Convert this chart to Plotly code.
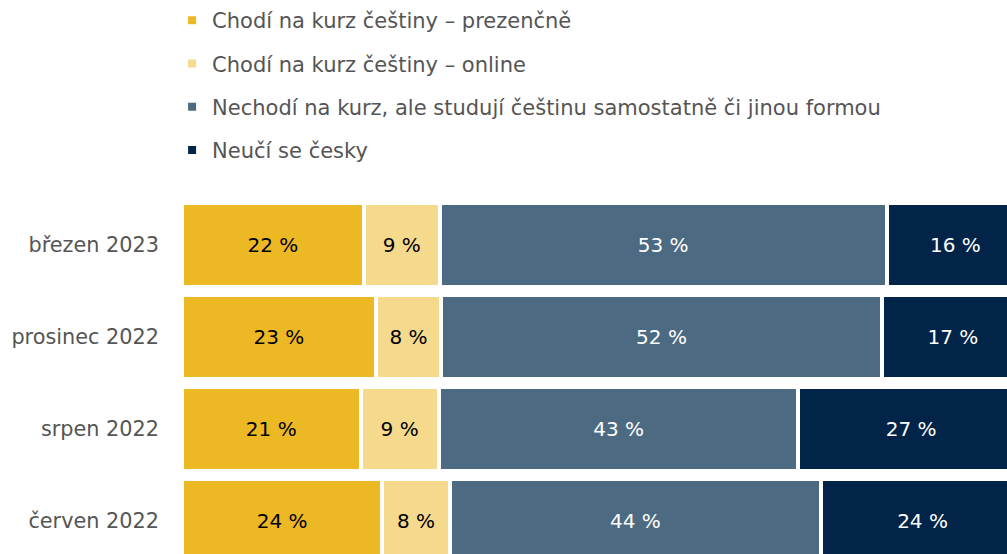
import plotly.graph_objects as go

categories = ["březen 2023", "prosinec 2022", "srpen 2022", "červen 2022"]

series_names = [
    "Chodí na kurz češtiny – prezenčně",
    "Chodí na kurz češtiny – online",
    "Nechodí na kurz, ale studují češtinu samostatně či jinou formou",
    "Neučí se česky",
]

prezencne = [21.6, 23.0, 21.2, 23.8]
online = [9.0, 7.8, 9.3, 8.0]
samostatne = [53.1, 52.3, 42.7, 44.1]
neuci = [16.3, 16.9, 26.8, 24.1]

colors = ["#ECB824", "#F5D98D", "#4C6B82", "#022448"]
text_colors = ["#000000", "#000000", "#FFFFFF", "#FFFFFF"]

FONT = "DejaVu Sans"

fig = go.Figure()
for i, (name, vals) in enumerate(zip(series_names, [prezencne, online, samostatne, neuci])):
    fig.add_trace(go.Bar(
        y=categories,
        x=vals,
        name=name,
        orientation="h",
        legendgroup=f"g{i}",
        marker=dict(color=colors[i], line=dict(color="white", width=4)),
        text=[f"{round(v)} %" for v in vals],
        textposition="inside",
        insidetextanchor="middle",
        textangle=0,
        constraintext="none",
        textfont=dict(family=FONT, size=20, color=text_colors[i]),
        hoverinfo="skip",
    ))

fig.update_layout(
    width=1007,
    height=554,
    barmode="stack",
    bargap=0.087,
    paper_bgcolor="white",
    plot_bgcolor="white",
    margin=dict(l=182, r=0, t=199, b=0, autoexpand=False),
    font=dict(family=FONT, size=20, color="#555555"),
    showlegend=True,
    legend=dict(
        orientation="v",
        traceorder="grouped",
        tracegroupgap=13,
        x=-0.012,
        xanchor="left",
        yref="container",
        y=1.0,
        yanchor="top",
        font=dict(family=FONT, size=21, color="#555555"),
        bgcolor="rgba(0,0,0,0)",
    ),
    xaxis=dict(
        range=[0, 97.98],
        showgrid=False,
        zeroline=False,
        showticklabels=False,
        showline=False,
        fixedrange=True,
    ),
    yaxis=dict(
        type="category",
        categoryorder="array",
        categoryarray=categories,
        range=[3.359, -0.5],
        showgrid=False,
        zeroline=False,
        showline=False,
        ticks="",
        ticklabelstandoff=22,
        tickfont=dict(family=FONT, size=20.8, color="#555555"),
    ),
)

fig.write_html(
    "out.html",
    config={"displayModeBar": False},
    post_script="document.body.style.margin='0';document.body.style.overflow='hidden';",
)
